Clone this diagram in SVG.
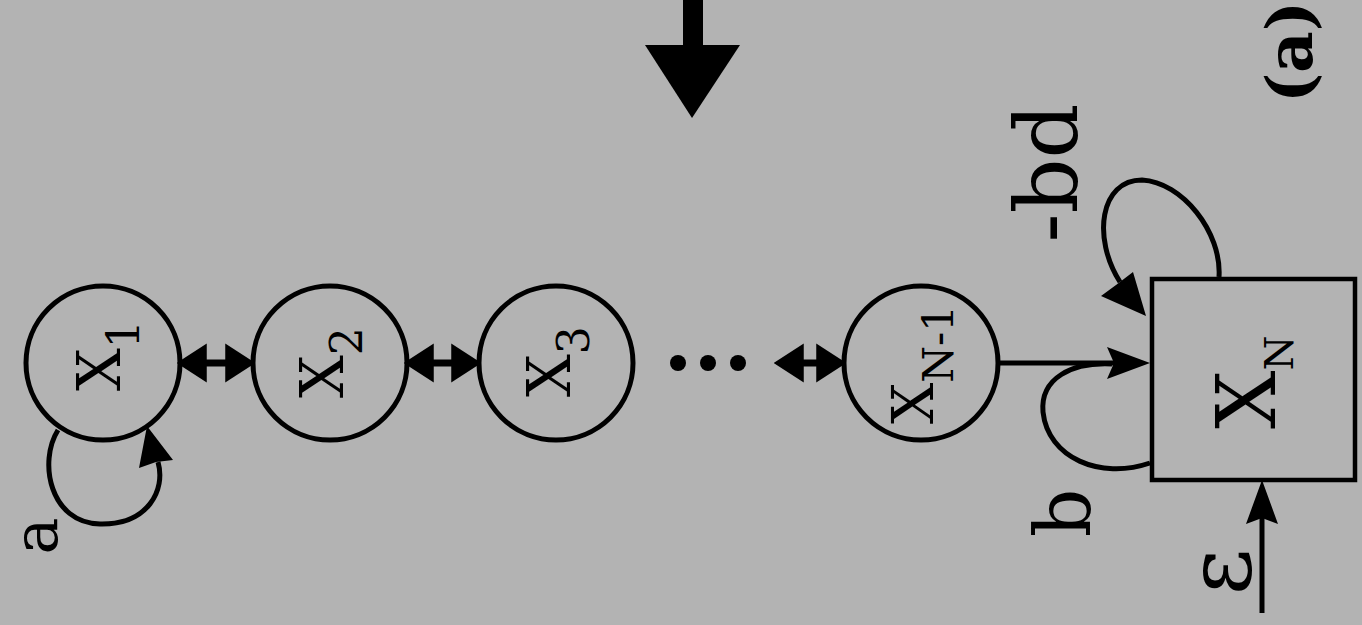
<svg xmlns="http://www.w3.org/2000/svg" width="1362" height="625" viewBox="0 0 1362 625">
<defs>
<style>
text{font-family:'DejaVu Serif',serif;fill:#000}
.node{fill:none;stroke:#000;stroke-width:5}
.box{fill:none;stroke:#000;stroke-width:4.5}
.ln{fill:none;stroke:#000;stroke-width:5}
.dbl{fill:none;stroke:#000;stroke-width:7;marker-start:url(#dh);marker-end:url(#dh)}
.hd{fill:#000;stroke:none}
</style>
<marker id="dh" markerUnits="userSpaceOnUse" markerWidth="30" markerHeight="40" viewBox="0 0 26 34" refX="5" refY="17" orient="auto-start-reverse">
<path d="M0,0 L26,17 L0,34 z" fill="#000"/>
</marker>
</defs>
<rect width="1362" height="625" fill="#b3b3b3"/>

<g id="X1">
<circle class="node" cx="103" cy="363" r="77"/>
<text transform="translate(120,391) rotate(-90)" font-size="60">X<tspan font-size="44" dy="19">1</tspan></text>
</g>
<g id="X2">
<circle class="node" cx="330" cy="363" r="77"/>
<text transform="translate(343,398) rotate(-90)" font-size="60">X<tspan font-size="44" dy="19">2</tspan></text>
</g>
<g id="X3">
<circle class="node" cx="556" cy="363" r="77"/>
<text transform="translate(570,397) rotate(-90)" font-size="60">X<tspan font-size="44" dy="19">3</tspan></text>
</g>
<g id="dots">
<circle cx="678" cy="363" r="8"/>
<circle cx="708" cy="363" r="8"/>
<circle cx="738" cy="363" r="8"/>
</g>
<g id="XN-1">
<circle class="node" cx="921" cy="363" r="77"/>
<text transform="translate(933,424) rotate(-90)" font-size="58">X<tspan font-size="42" dy="20">N-1</tspan></text>
</g>
<g id="XN">
<rect class="box" x="1152" y="279" width="203" height="201"/>
<text transform="translate(1275,429) rotate(-90)" font-size="82">X<tspan font-size="40" dy="18">N</tspan></text>
</g>

<g id="connectors">
<line class="dbl" x1="201" y1="363" x2="231" y2="363"/>
<line class="dbl" x1="428" y1="363" x2="457" y2="363"/>
<line class="dbl" x1="798" y1="363" x2="822" y2="363"/>
<line class="ln" x1="998" y1="363" x2="1115" y2="363"/>
<path class="hd" d="M1150,363 L1107,347 L1114,363 L1107,379 z"/>
<path class="ln" d="M1150,463 C1100,480 1048,458 1043,412 C1040,378 1072,362 1112,364"/>
<path class="ln" d="M1219,277 C1222,232 1182,182 1142,180 C1100,180 1092,238 1120,282"/>
<path class="hd" d="M1146,316 L1101,296 L1116,285 L1133,272 z"/>
<path class="ln" d="M58,430 C38,462 50,523 100,524 C148,525 166,490 158,462"/>
<path class="hd" d="M147,426 L139,468 L156,462 L173,460 z"/>
<line class="ln" x1="1262" y1="613" x2="1262" y2="515"/>
<path class="hd" d="M1262,480 L1246,524 L1262,518 L1278,524 z"/>
<rect x="683" y="0" width="20" height="46" fill="#000"/>
<path class="hd" d="M645,45 L740,45 L692,118 z"/>
</g>

<g id="labels">
<text transform="translate(57,536) rotate(-90)" font-size="62" text-anchor="middle">a</text>
<text transform="translate(1090,513) rotate(-90)" font-size="76" text-anchor="middle">b</text>
<text transform="translate(1077,173) rotate(-90)" font-size="86" text-anchor="middle">-bd</text>
<text transform="translate(1250,572) rotate(-90)" font-size="90" text-anchor="middle">ε</text>
<text transform="translate(1312,52) rotate(-90)" font-size="64" font-weight="bold" text-anchor="middle">(a)</text>
</g>
</svg>
